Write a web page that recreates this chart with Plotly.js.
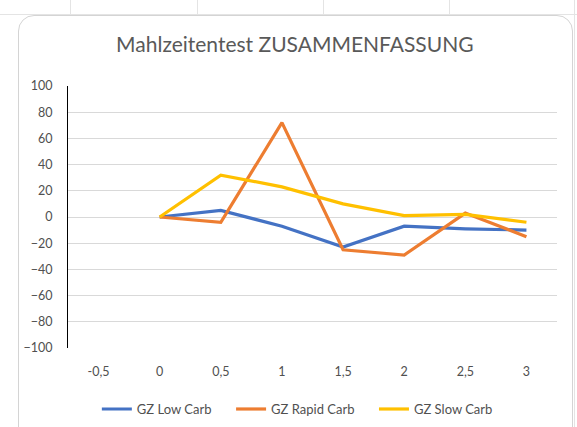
<!DOCTYPE html>
<html><head><meta charset="utf-8">
<script src="https://cdn.plot.ly/plotly-3.0.1.min.js"></script>
<style>
html,body{margin:0;padding:0;background:#fff;width:577px;height:427px;overflow:hidden;position:relative;}
.frame{position:absolute;left:18px;top:15px;width:553px;height:440px;border:1px solid #d4d4d4;border-radius:16px;background:#fff;}
.hl{position:absolute;left:0;top:14px;width:577px;height:1px;background:#e4e4e4;}
.vl{position:absolute;top:0;width:1px;height:14px;background:#e4e4e4;}
.rv{position:absolute;left:574px;top:0;width:1px;height:427px;background:#e4e4e4;}
#chart{position:absolute;left:0;top:0;width:577px;height:427px;}
</style></head>
<body>
<div class="hl"></div>
<div class="vl" style="left:70px"></div>
<div class="vl" style="left:197px"></div>
<div class="vl" style="left:323px"></div>
<div class="vl" style="left:449px"></div>
<div class="rv"></div>
<div class="frame"></div>
<div id="chart"></div>
<script>
const xValues = [0, 0.5, 1, 1.5, 2, 2.5, 3];
const tickValues = [-0.5, 0, 0.5, 1, 1.5, 2, 2.5, 3];
const tickLabels = ["-0,5", "0", "0,5", "1", "1,5", "2", "2,5", "3"];
const lowCarb = [0, 5, -7, -23, -7, -9, -10];
const rapidCarb = [0, -4, 72, -25, -29, 3, -15];
const slowCarb = [0, 32, 23, 10, 1, 2, -4];
const seriesNames = ["GZ Low Carb", "GZ Rapid Carb", "GZ Slow Carb"];
const colors = ["#4472C4", "#ED7D31", "#FFC000"];
const legendIds = ["legend", "legend2", "legend3"];
const legendX = [0.059, 0.3335, 0.6257];

const data = [lowCarb, rapidCarb, slowCarb].map((ys, i) => ({
  x: xValues, y: ys, type: "scatter", mode: "lines", name: seriesNames[i],
  legend: legendIds[i],
  line: {color: colors[i], width: 3.2}
}));

const font = "Lato, 'Open Sans', sans-serif";
const layout = {
  width: 577, height: 427,
  paper_bgcolor: "rgba(0,0,0,0)", plot_bgcolor: "rgba(0,0,0,0)",
  margin: {l: 68, r: 20, t: 86, b: 79, autoexpand: false},
  font: {family: font, color: "#505050", size: 12.5},
  title: {text: "Mahlzeitentest ZUSAMMENFASSUNG", x: 0.511, xref: "container", y: 0.895, yref: "container", yanchor: "middle", xanchor: "center",
          font: {family: font, size: 21, color: "#595959"}},
  xaxis: {range: [-0.75, 3.25], tickvals: tickValues, ticktext: tickLabels, showgrid: false, zeroline: false,
          showline: false, ticks: "", ticklabelstandoff: 14, fixedrange: true},
  yaxis: {range: [-100, 100], dtick: 20, tick0: 0, showgrid: true, gridcolor: "#d9d9d9", gridwidth: 1, zeroline: false,
          showline: true, linecolor: "#000", linewidth: 1, ticks: "", ticklabelstandoff: 12, fixedrange: true},
  showlegend: true
};
legendIds.forEach((id, i) => {
  layout[id] = {orientation: "h", x: legendX[i], xanchor: "left", y: -0.233, yanchor: "middle",
                font: {size: 13, color: "#505050", family: font}, itemwidth: 30, bgcolor: "rgba(0,0,0,0)"};
});
Plotly.newPlot("chart", data, layout, {displayModeBar: false, staticPlot: true});
</script>
</body></html>
